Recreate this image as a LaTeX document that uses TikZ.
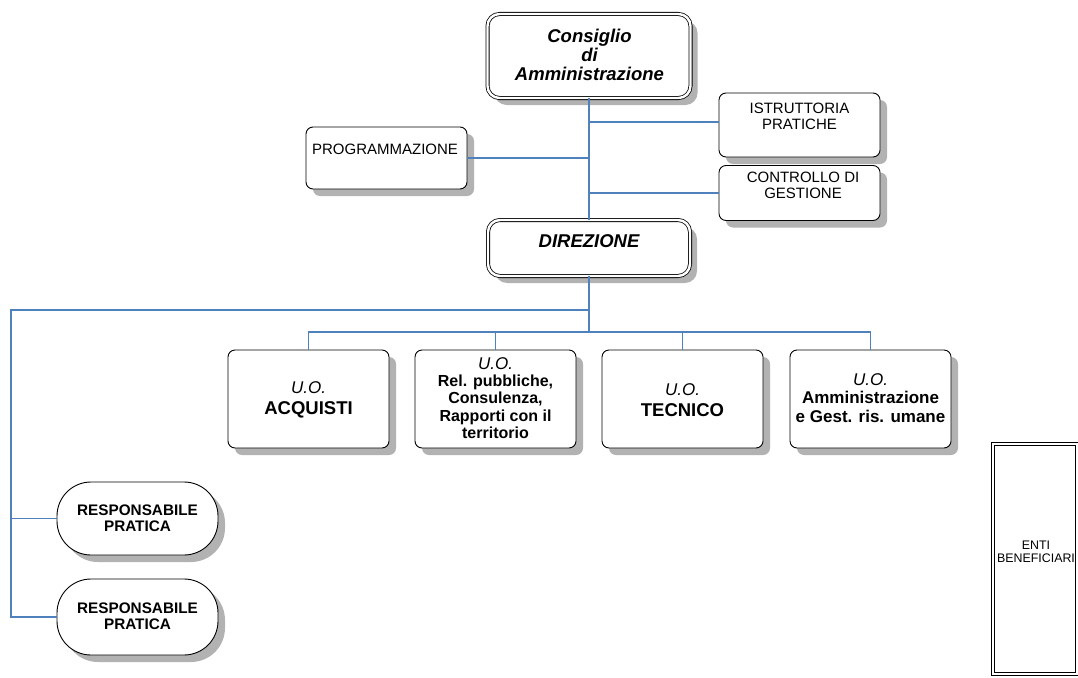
\documentclass[tikz,border=0pt]{standalone}
\usepackage{fontspec}
\setmainfont{Liberation Sans}
\usetikzlibrary{shadows}
\definecolor{linkblue}{RGB}{79,129,189}
\begin{document}
\begin{tikzpicture}[x=1pt,y=-1pt,
  conn/.style={draw=linkblue, line width=1.1pt},
  shade/.style={drop shadow={shadow xshift=7pt, shadow yshift=-7pt, fill=black!30, opacity=1}},
  box/.style={draw, line width=0.9pt, rounded corners=7pt, fill=white, shade, inner sep=0pt, outer sep=0pt},
  dbox/.style={draw, line width=0.8pt, double=white, double distance=2.4pt, rounded corners=12pt, fill=white, shade, inner sep=0pt, outer sep=0pt},
  pill/.style={draw, line width=0.9pt, rounded corners=34pt, fill=white, shade, inner sep=0pt, outer sep=0pt},
  txt/.style={align=center, inner sep=0pt},
  small/.style={txt, font=\fontsize{15}{16}\selectfont},
  big/.style={txt, font=\fontsize{18.5}{19}\selectfont\bfseries\itshape},
  uo/.style={txt, font=\fontsize{18.5}{21}\selectfont},
]
\useasboundingbox (0,0) rectangle (1078,677);

% governing bodies
\node[dbox, minimum width=203, minimum height=84] (cda) at (589,56) {};
\node[big] (cdat) at (589.5,55) {Consiglio\\di\\Amministrazione};

\node[dbox, minimum width=202, minimum height=56] (dir) at (589,248) {};
\node[big] (dirt) at (589,241) {DIREZIONE};

% staff units
\node[box, minimum width=161, minimum height=64] (istr) at (799.5,125) {};
\node[small] (istrt) at (799.5,116) {ISTRUTTORIA\\PRATICHE};

\node[box, minimum width=161, minimum height=62] (prog) at (386.5,158) {};
\node[small] (progt) at (385,149) {PROGRAMMAZIONE};

\node[box, minimum width=161, minimum height=55] (ctrl) at (799.5,193) {};
\node[small] (ctrlt) at (803,185) {CONTROLLO DI\\GESTIONE};

% operating units
\node[box, minimum width=161, minimum height=98] (uo1) at (308.5,399) {};
\node[uo] (uo1t) at (308.5,400) {{\fontsize{17}{21}\selectfont\itshape U.O.}\\\textbf{ACQUISTI}};

\node[box, minimum width=161, minimum height=98] (uo2) at (495.5,399) {};
\node[txt, font=\fontsize{16}{17.3}\selectfont] (uo2t) at (495.5,398) {{\fontsize{17}{17.3}\selectfont\itshape U.O.}\\\textbf{Rel. pubbliche,}\\\textbf{Consulenza,}\\\textbf{Rapporti con il}\\\textbf{territorio}};

\node[box, minimum width=161, minimum height=98] (uo3) at (682.5,399) {};
\node[uo] (uo3t) at (682.5,400) {{\fontsize{17}{21}\selectfont\itshape U.O.}\\\textbf{TECNICO}};

\node[box, minimum width=161, minimum height=98] (uo4) at (870.5,399) {};
\node[txt, font=\fontsize{17}{18.5}\selectfont] (uo4t) at (870.5,398) {{\itshape U.O.}\\\textbf{Amministrazione}\\\textbf{e Gest. ris. umane}};

% case managers
\node[pill, minimum width=161, minimum height=73] (rp1) at (137.5,518.5) {};
\node[txt, font=\fontsize{15.3}{16.5}\selectfont\bfseries] (rp1t) at (137.5,518) {RESPONSABILE\\PRATICA};

\node[pill, minimum width=161, minimum height=76] (rp2) at (137.5,617) {};
\node[txt, font=\fontsize{15.3}{16.5}\selectfont\bfseries] (rp2t) at (137.5,616) {RESPONSABILE\\PRATICA};

% beneficiaries
\node[draw, line width=0.8pt, double=white, double distance=2.2pt, minimum width=84, minimum height=230, inner sep=0pt, outer sep=0pt] (enti) at (1035,559) {};
\node[txt, font=\fontsize{12.4}{12.5}\selectfont] (entit) at (1036,552) {ENTI\\BENEFICIARI};

% connectors
\coordinate (bus) at (589,332);
\coordinate (lb) at (11,310);
\draw[conn] (cda.south) -- (dir.north);
\draw[conn] ([yshift=3pt]istr.west) -- ([yshift=3pt]istr.west -| cda.south);
\draw[conn] (prog.east) -- (prog.east -| cda.south);
\draw[conn] (ctrl.west) -- (ctrl.west -| cda.south);
\draw[conn] (dir.south) -- (bus);
\draw[conn] (uo1.north) -- (uo1.north |- bus) -- (uo4.north |- bus) -- (uo4.north);
\draw[conn] (uo2.north) -- (uo2.north |- bus);
\draw[conn] (uo3.north) -- (uo3.north |- bus);
\draw[conn] (dir.south |- lb) -- (lb) |- (rp2.west);
\draw[conn] (rp1.west) -- (rp1.west -| lb);
\end{tikzpicture}
\end{document}
